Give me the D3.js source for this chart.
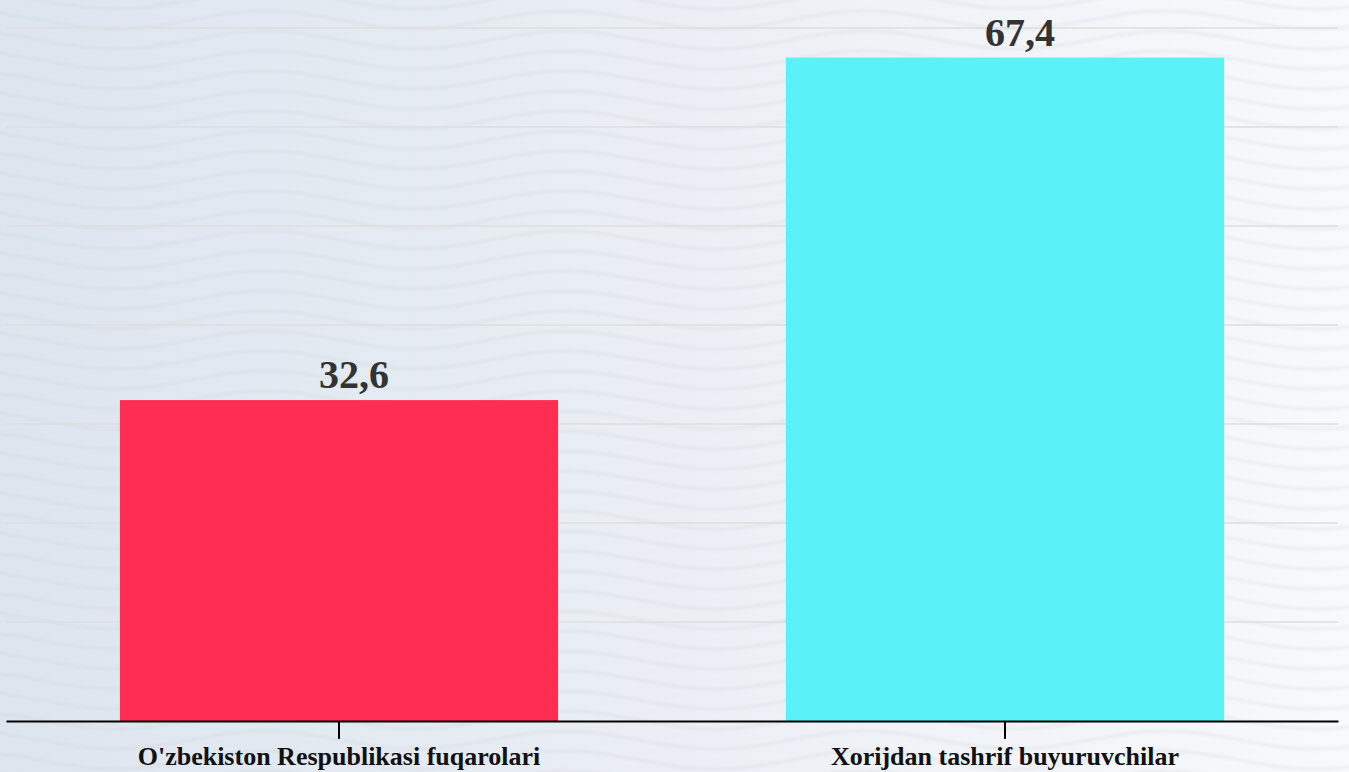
<!DOCTYPE html>
<html lang="uz">
<head>
    <meta charset="UTF-8">
    <title> Bar Chart </title>
    <script src="https://cdn.jsdelivr.net/npm/d3@7"></script>
    <style>
        html, body { margin: 0; padding: 0; overflow: hidden; }
    </style>
</head>
<body>
<svg width="1349" height="772"></svg>
<script>
    const categories = ["O'zbekiston Respublikasi fuqarolari", "Xorijdan tashrif buyuruvchilar"]
    const values = [32.6, 67.4]
    const valueLabels = ['32,6', '67,4']
    const barColors = ['#ff2d52', '#5af2f6']

    const W = 1349, H = 772
    let svg = d3.select('svg')
    let defs = svg.append('defs')

    // background: soft blue-grey to white, with blurred waves
    let grad = defs.append('linearGradient').attr('id', 'bg').attr('x1', 0).attr('x2', 1).attr('y1', 0).attr('y2', 0)
    grad.append('stop').attr('offset', '0%').attr('stop-color', '#dde5ef')
    grad.append('stop').attr('offset', '50%').attr('stop-color', '#ebeff5')
    grad.append('stop').attr('offset', '100%').attr('stop-color', '#f8f9fb')
    defs.append('filter').attr('id', 'blur').append('feGaussianBlur').attr('stdDeviation', 1.8)

    svg.append('rect').attr('width', W).attr('height', H).attr('fill', 'url(#bg)')

    let waves = svg.append('g').attr('filter', 'url(#blur)')
    let period = 300, amp = 9
    for (let y0 = -20; y0 < H + 20; y0 += 20) {
        let pts = d3.range(-period, W + period, 10).map(x => [x, y0 + amp * Math.sin((x - 40) / period * 2 * Math.PI)])
        waves.append('path')
            .attr('d', d3.line().curve(d3.curveBasis)(pts))
            .attr('fill', 'none')
            .attr('stroke', '#c8ccd2')
            .attr('stroke-opacity', 0.3)
            .attr('stroke-width', 2.5)
    }

    let xLeft = 6, xRight = 1338, yBase = 721, yTop = 28
    let yMax = 70.4
    let scaleX = d3.scaleBand().domain(categories).range([xLeft, xRight]).paddingInner(0.342).paddingOuter(0.171)
    let scaleY = d3.scaleLinear().domain([0, yMax]).range([yBase, yTop])

    // gridlines, 7 equal steps
    let grid = d3.range(1, 8).map(i => yMax * i / 7)
    svg.append('g')
        .selectAll('line')
        .data(grid)
        .enter()
        .append('line')
        .attr('x1', xLeft).attr('x2', xRight)
        .attr('y1', d => scaleY(d)).attr('y2', d => scaleY(d))
        .attr('stroke', '#dedede')
        .attr('stroke-width', 1.6)

    svg.append('g')
        .selectAll('rect')
        .data(values)
        .enter()
        .append('rect')
        .attr('x', (d, i) => scaleX(categories[i]))
        .attr('width', scaleX.bandwidth())
        .attr('y', d => scaleY(d))
        .attr('height', d => yBase - scaleY(d))
        .attr('fill', (d, i) => barColors[i])

    // value labels sit a bit right of the bar centre
    svg.append('g')
        .selectAll('text')
        .data(values)
        .enter()
        .append('text')
        .attr('x', (d, i) => scaleX(categories[i]) + scaleX.bandwidth() / 2)
        .attr('dx', 15)
        .attr('y', d => scaleY(d) - 12)
        .attr('text-anchor', 'middle')
        .style('font-family', '"Liberation Serif", "Times New Roman", serif')
        .style('font-weight', 'bold')
        .style('font-size', '40px')
        .style('fill', '#333333')
        .text((d, i) => valueLabels[i])

    let axis = svg.append('g')
        .attr('transform', 'translate(0,' + yBase + ')')
        .call(d3.axisBottom(scaleX).tickSize(18).tickSizeOuter(0).tickPadding(8))
    axis.select('.domain').attr('stroke', '#000').attr('stroke-width', 2)
    axis.selectAll('.tick line').attr('stroke', '#000').attr('stroke-width', 2)
    axis.selectAll('.tick text')
        .style('font-family', '"Liberation Serif", "Times New Roman", serif')
        .style('font-weight', 'bold')
        .style('font-size', '26px')
        .style('fill', '#111')
</script>
</body>
</html>
